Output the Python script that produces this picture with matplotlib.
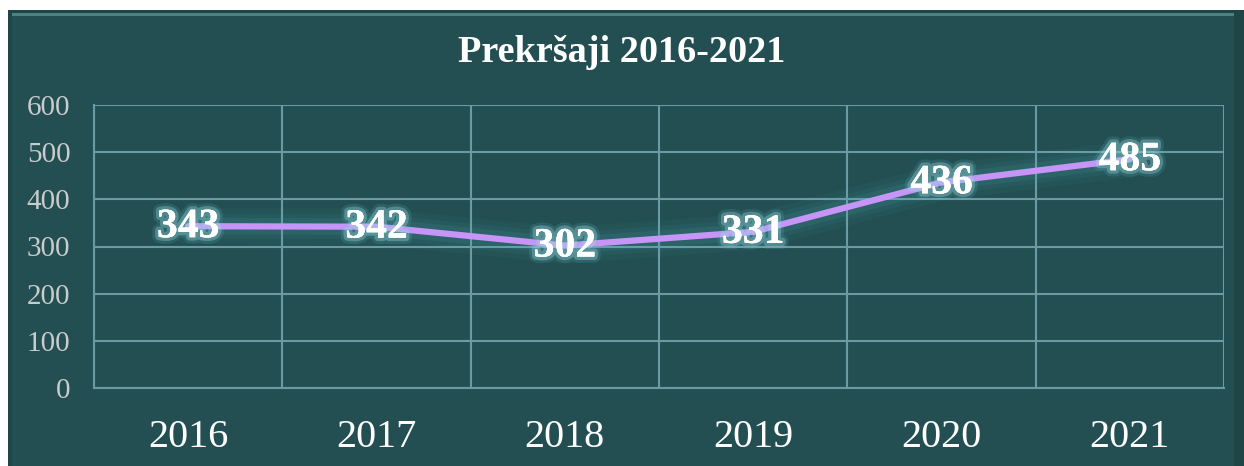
import numpy as np
import matplotlib.pyplot as plt
import matplotlib.patheffects as pe
from matplotlib.patches import Rectangle

# data
years = ["2016", "2017", "2018", "2019", "2020", "2021"]
counts = [343, 342, 302, 331, 436, 485]
title = "Prekršaji 2016-2021"

# colours
bg = "#234f52"
grid_c = "#6a9ba5"
line_c = "#c795f7"
glow_c = "#4fb3bf"

plt.rcParams['font.family'] = ['Liberation Serif', 'DejaVu Serif']

fig = plt.figure(figsize=(12.44, 4.66), dpi=100)
fig.patch.set_facecolor("white")

# outer dark panel with a bit of bevel
W, H = 1244, 466
fig.patches.append(Rectangle((8 / W, 0), 1 - 8 / W, 1 - 10 / H,
                             transform=fig.transFigure, facecolor="#1f4547",
                             edgecolor="none", zorder=-3))
fig.patches.append(Rectangle((12 / W, 0), 1 - 22 / W, 1 - 14 / H,
                             transform=fig.transFigure, facecolor=bg,
                             edgecolor="none", zorder=-2))
fig.patches.append(Rectangle((12 / W, 1 - 16 / H), 1 - 22 / W, 3 / H,
                             transform=fig.transFigure, facecolor="#4d8283",
                             edgecolor="none", zorder=-1))

ax = fig.add_axes([94 / W, 1 - 388 / H, (1224 - 94) / W, (388 - 105) / H])
ax.set_facecolor("none")
ax.set_zorder(2)

x = np.arange(len(years))

# soft glow under the line
for lw, a in [(26, 0.05), (18, 0.07), (12, 0.10)]:
    ax.plot(x, counts, color=glow_c, lw=lw, alpha=a, solid_capstyle="round",
            zorder=2)
ax.plot(x, counts, color=line_c, lw=4.5, solid_capstyle="round", zorder=3)

glow = [pe.withStroke(linewidth=9, foreground="#6cc7d0", alpha=0.15),
        pe.withStroke(linewidth=5, foreground="#a8e6ec", alpha=0.3),
        pe.Normal()]
for xi, v in zip(x, counts):
    ax.text(xi, v - 2, str(v), ha="center", va="center", fontsize=30,
            fontweight="bold", color="white", path_effects=glow, zorder=4)

ax.set_xlim(-0.5, len(years) - 0.5)
ax.set_ylim(0, 600)
ax.set_yticks(range(0, 601, 100))
ax.set_xticks(np.arange(-0.5, len(years), 1.0), minor=False)
ax.set_xticklabels([])
ax.set_xticks(x, minor=True)
ax.set_xticklabels(years, minor=True)

ax.grid(True, axis="both", which="major", color=grid_c, lw=1.5, zorder=1)
for s in ax.spines.values():
    s.set_color(grid_c)
    s.set_linewidth(1.5)
ax.spines["top"].set_visible(False)
ax.spines["right"].set_visible(False)

ax.tick_params(axis="both", which="both", length=0)
ax.tick_params(axis="y", labelsize=21, labelcolor="#c9cccc", pad=17)
ax.tick_params(axis="x", which="minor", labelsize=29, labelcolor="white",
               pad=22)

fig.text(0.5, 1 - 52 / H, title, ha="center", va="center", fontsize=27.5,
         fontweight="bold", color="white")

fig.savefig("out.png", dpi=100, facecolor=fig.get_facecolor())
